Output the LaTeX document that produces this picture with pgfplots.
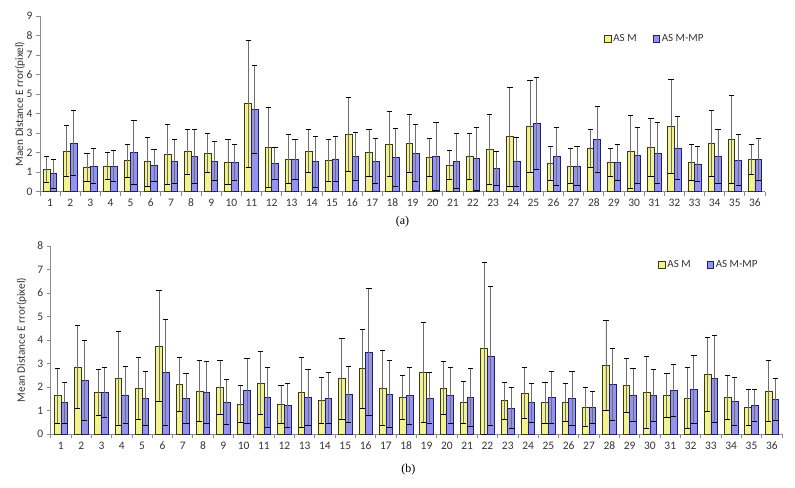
\documentclass[border=0pt]{standalone}
\usepackage{pgfplots}
\pgfplotsset{compat=1.18}
\usepackage{pgfplotstable}
\usepackage{fontspec}
\setmainfont{Carlito}
\newfontfamily\capfont{Liberation Serif}
\definecolor{asmfill}{HTML}{F2F28E}
\definecolor{asmedge}{HTML}{3A3A14}
\definecolor{mpfill}{HTML}{9494EC}
\definecolor{mpedge}{HTML}{1E1E78}
\definecolor{axgray}{HTML}{8C8C8C}
\definecolor{errgray}{HTML}{6E6E6E}

\pgfplotstableread{
x  a     ae    m     me
1  1.16  0.67  0.92  0.74
2  2.09  1.29  2.48  1.66
3  1.25  0.72  1.32  0.90
4  1.32  0.68  1.30  0.80
5  1.59  0.85  2.02  1.64
6  1.54  1.25  1.35  0.80
7  1.91  1.56  1.57  1.13
8  2.05  1.16  1.81  1.37
9  1.98  0.98  1.56  0.99
10 1.52  1.16  1.50  0.91
11 4.50  3.24  4.21  2.25
12 2.26  2.05  1.44  0.83
13 1.68  1.24  1.66  1.01
14 2.09  1.11  1.54  1.31
15 1.61  1.09  1.68  1.17
16 2.92  1.90  1.81  1.23
17 2.00  1.20  1.57  1.17
18 2.43  1.67  1.76  1.47
19 2.48  1.50  1.97  1.47
20 1.76  0.96  1.81  1.75
21 1.37  0.72  1.57  1.42
22 1.81  1.16  1.69  1.61
23 2.17  1.81  1.18  0.87
24 2.82  2.53  1.54  1.26
25 3.33  2.35  3.50  2.35
26 1.44  0.88  1.81  1.49
27 1.32  0.90  1.32  1.02
28 2.22  0.98  2.68  1.70
29 1.50  0.72  1.50  0.91
30 2.05  1.86  1.85  1.45
31 2.27  1.49  1.97  1.57
32 3.33  2.40  2.24  1.59
33 1.50  0.91  1.42  0.89
34 2.48  1.69  1.81  1.37
35 2.68  2.24  1.62  1.30
36 1.66  0.78  1.66  1.08
}\dataA

\pgfplotstableread{
x  a     ae    m     me
1  1.63  1.16  1.33  0.87
2  2.84  1.77  2.27  1.69
3  1.77  0.97  1.76  1.06
4  2.38  2.00  1.66  1.23
5  1.94  1.32  1.52  1.16
6  3.74  2.36  2.62  2.27
7  2.11  1.15  1.52  1.05
8  1.82  1.29  1.76  1.32
9  1.97  1.14  1.36  0.95
10 1.28  0.78  1.84  1.38
11 2.16  1.34  1.56  1.26
12 1.26  0.81  1.23  0.93
13 1.77  1.49  1.56  1.19
14 1.43  0.98  1.52  1.09
15 2.35  1.72  1.69  1.20
16 2.78  1.69  3.48  2.70
17 1.96  1.60  1.69  1.42
18 1.56  0.94  1.63  1.21
19 2.62  2.13  1.52  1.09
20 1.96  1.12  1.63  1.19
21 1.33  0.90  1.56  1.23
22 3.65  3.67  3.32  2.94
23 1.42  0.78  1.09  0.87
24 1.74  1.08  1.33  0.84
25 1.33  0.87  1.56  1.12
26 1.35  0.82  1.52  1.16
27 1.15  0.81  1.12  0.68
28 2.92  1.90  2.11  1.54
29 2.07  1.15  1.66  1.12
30 1.77  1.55  1.63  1.11
31 1.63  0.94  1.84  1.11
32 1.52  1.30  1.90  1.45
33 2.54  1.57  2.35  1.85
34 1.56  0.94  1.39  1.02
35 1.12  0.77  1.22  0.67
36 1.82  1.29  1.48  0.89
}\dataB

\pgfplotsset{
  mybars/.style={
    scale only axis,
    ybar=0pt, bar width=0.33,
    xmin=0.5, xmax=36.5, ymin=0,
    axis lines=left,
    axis line style={axgray, -, line width=0.8bp},
    xtick={1,...,36},
    minor xtick={0.5,1.5,...,36.5},
    major x tick style={draw=none},
    minor x tick style={axgray, line width=0.8bp},
    ytick distance=1,
    y tick style={axgray, line width=0.8bp},
    tick align=outside,
    major tick length=4bp, minor tick length=4bp,
    tick label style={font=\fontsize{11.5}{13}\selectfont, text=black!80},
    x tick label style={text height=7.6bp, text depth=0bp},
    /pgf/number format/assume math mode=true,
    label style={font=\fontsize{11.3}{13}\selectfont, text=black!80},
    legend style={draw=none, fill=none, legend columns=2,
      font=\fontsize{11}{13}\selectfont, text=black!80,
      /tikz/every even column/.append style={column sep=14bp}},
    legend image code/.code={\draw[##1, line width=0.6bp] (0bp,-3.3bp) rectangle (6.6bp,3.3bp);},
    error bars/error bar style={errgray, line width=0.9bp},
    error bars/error mark options={rotate=90, mark size=2.6bp, black, line width=0.9bp},
  },
  asmplot/.style={fill=asmfill, draw=asmedge, line width=0.7bp},
  mpplot/.style={fill=mpfill, draw=mpedge, line width=0.7bp},
}

\begin{document}
\begin{tikzpicture}
\useasboundingbox (0,0) rectangle (795bp,488bp);
% panel (a)
\begin{axis}[mybars,
  at={(40bp,296.3bp)}, anchor=south west,
  width=725bp, height=175.7bp,
  ymax=9,
  ylabel={Maen Distance E rror(pixel)},
  ylabel style={at={(axis description cs:-0.0276,0.5)}, anchor=center},
  legend style={at={(0.848,0.869)}, anchor=center},
  extra description/.code={\node[font=\capfont\fontsize{12}{14}\selectfont] at (0.5,0) [yshift=-30bp] {(a)};},
]
\addplot[asmplot, error bars/.cd, y dir=both, y explicit] table[x=x, y=a, y error=ae] {\dataA};
\addplot[mpplot, error bars/.cd, y dir=both, y explicit] table[x=x, y=m, y error=me] {\dataA};
\legend{AS M, AS M-MP}
\end{axis}
% panel (b)
\begin{axis}[mybars,
  at={(50.7bp,54bp)}, anchor=south west,
  width=731.3bp, height=188bp,
  ymax=8,
  ylabel={Mean Distance E rror(pixel)},
  ylabel style={at={(axis description cs:-0.0397,0.5)}, anchor=center},
  legend style={at={(0.90,0.899)}, anchor=center},
  extra description/.code={\node[font=\capfont\fontsize{12}{14}\selectfont] at (0.489,0) [yshift=-36bp] {(b)};},
]
\addplot[asmplot, error bars/.cd, y dir=both, y explicit] table[x=x, y=a, y error=ae] {\dataB};
\addplot[mpplot, error bars/.cd, y dir=both, y explicit] table[x=x, y=m, y error=me] {\dataB};
\legend{AS M, AS M-MP}
\end{axis}
\end{tikzpicture}
\end{document}
